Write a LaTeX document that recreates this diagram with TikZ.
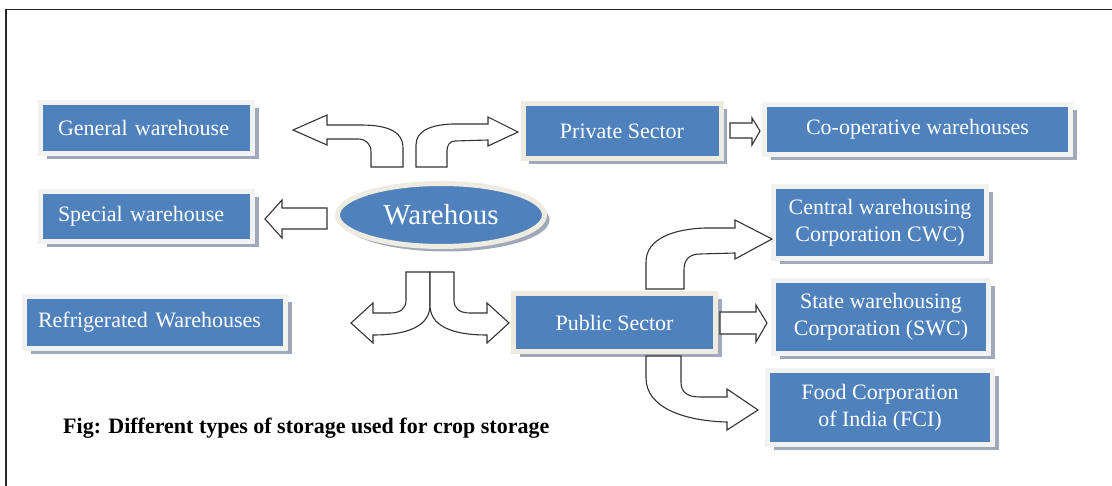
\documentclass[tikz,border=0pt]{standalone}
\usepackage{fontspec}
\setmainfont{Liberation Serif}
\usetikzlibrary{shadows,shapes.geometric}
\definecolor{boxblue}{RGB}{79,129,189}
\definecolor{lightframe}{RGB}{242,242,242}
\definecolor{beigeframe}{RGB}{238,236,225}
\definecolor{shadowc}{RGB}{160,168,186}
\tikzset{
  box/.style={rectangle, fill=boxblue, draw=lightframe, line width=5pt,
    text=white, font=\fontsize{22}{27}\selectfont, inner xsep=0pt, inner ysep=0pt,
    align=center,
    drop shadow={shadow xshift=6pt, shadow yshift=-6pt, fill=shadowc, opacity=1}},
  beigebox/.style={box, draw=beigeframe},
  leftbox/.style={box, align=left},
  oval/.style={ellipse, fill=boxblue, draw=beigeframe, line width=5pt, text=white,
    font=\fontsize{29}{32}\selectfont, inner sep=0pt,
    drop shadow={shadow xshift=5pt, shadow yshift=-5pt, fill=shadowc, opacity=1}},
  blockarrow/.style={draw=black!80, fill=white, line width=1.1pt, line join=miter},
  caption/.style={font=\bfseries\fontsize{22}{24}\selectfont, text=black, inner sep=0pt}
}
\begin{document}
\begin{tikzpicture}[x=1pt,y=-1pt]
\useasboundingbox (0,0) rectangle (1112,486);
\fill[white] (0,0) rectangle (1112,486);
% outer frame
\draw[line width=1.8pt, black!85] (6,9.5) rectangle (1130,505);

% nodes
\node[leftbox, text width=177pt, inner xsep=17.5pt, minimum height=51pt] (gen) at (146.5,128) {General warehouse};
\node[leftbox, text width=177pt, inner xsep=17.5pt, minimum height=50pt] (spec) at (146.5,216.5) {Special warehouse};
\node[leftbox, text width=234pt, inner xsep=13.5pt, minimum height=52pt] (refr) at (155,322.5) {Refrigerated Warehouses};
\node[beigebox, minimum width=198pt, minimum height=55pt] (priv) at (622,131) {Private Sector};
\node[box, minimum width=306pt, minimum height=50pt] (coop) at (917.5,129.5) {Co-operative warehouses};
\node[box, minimum width=213pt, minimum height=72pt] (cwc) at (880,222.5) {Central warehousing\\Corporation CWC)};
\node[box, minimum width=215pt, minimum height=73pt] (swc) at (881,317) {State warehousing\\Corporation (SWC)};
\node[box, minimum width=225pt, minimum height=74pt] (fci) at (880,407.5) {Food Corporation\\of India (FCI)};
\node[beigebox, minimum width=202pt, minimum height=58pt] (pub) at (614.5,322.5) {Public Sector};
\node[oval, minimum width=207pt, minimum height=63pt] (wh) at (441,215) {Warehous};
\node[caption, anchor=west] (cap) at (63,428) {Fig: Different types of storage used for crop storage};

% block arrows
% warehouse -> general (up-left)
\draw[blockarrow] (403,167) -- (403,148) .. controls (403,130) and (385,125) .. (360,125)
  -- (327,125) -- (327,115) -- (293,130) -- (327,145) -- (327,139) -- (358,139)
  .. controls (366,139) and (371,144) .. (371,152) -- (371,167) -- cycle;
% warehouse -> private (up-right)
\draw[blockarrow] (416,167) -- (416,145) .. controls (416,131) and (430,125) .. (452,124)
  -- (488,124) -- (488,117) -- (518,132) -- (488,146) -- (488,140) -- (455,141)
  .. controls (450,141) and (447,145) .. (447,151) -- (447,167) -- cycle;
% warehouse -> special (left)
\draw[blockarrow] (327,208) -- (282,208) -- (282,200) -- (265,219) -- (282,238) -- (282,229) -- (327,229) -- cycle;
% warehouse -> refrigerated (down-left)
\draw[blockarrow] (406,272) -- (406,300) .. controls (406,309) and (400,313) .. (390,313)
  -- (373,313) -- (373,303) -- (351,323) -- (373,343) -- (373,335)
  .. controls (410,335) and (430,325) .. (430,305) -- (430,272) -- cycle;
% warehouse -> public (down-right)
\draw[blockarrow] (454,272) -- (454,300) .. controls (454,309) and (460,313) .. (470,313)
  -- (487,313) -- (487,303) -- (509,323) -- (487,343) -- (487,335)
  .. controls (450,335) and (430,325) .. (430,305) -- (430,272) -- cycle;
% private -> coop
\draw[blockarrow] (730,123) -- (752,123) -- (752,118) -- (760,131) -- (752,145) -- (752,138) -- (730,138) -- cycle;
% public -> cwc (up-right)
\draw[blockarrow] (646,289) -- (646,262) .. controls (646,238) and (675,229) .. (705,228)
  -- (735,228) -- (735,220) -- (772,239) -- (735,259) -- (735,253) -- (700,254)
  .. controls (689,254) and (684,260) .. (684,270) -- (684,289) -- cycle;
% public -> swc (right)
\draw[blockarrow] (720,312) -- (756,312) -- (756,305) -- (767,323) -- (756,342) -- (756,334) -- (720,334) -- cycle;
% public -> fci (down-right)
\draw[blockarrow] (646,356) -- (646,378) .. controls (646,408) and (685,421) .. (727,422)
  -- (727,430) -- (758,410) -- (727,389) -- (727,397) -- (700,397)
  .. controls (687,397) and (681,392) .. (681,382) -- (681,356) -- cycle;
\end{tikzpicture}
\end{document}
